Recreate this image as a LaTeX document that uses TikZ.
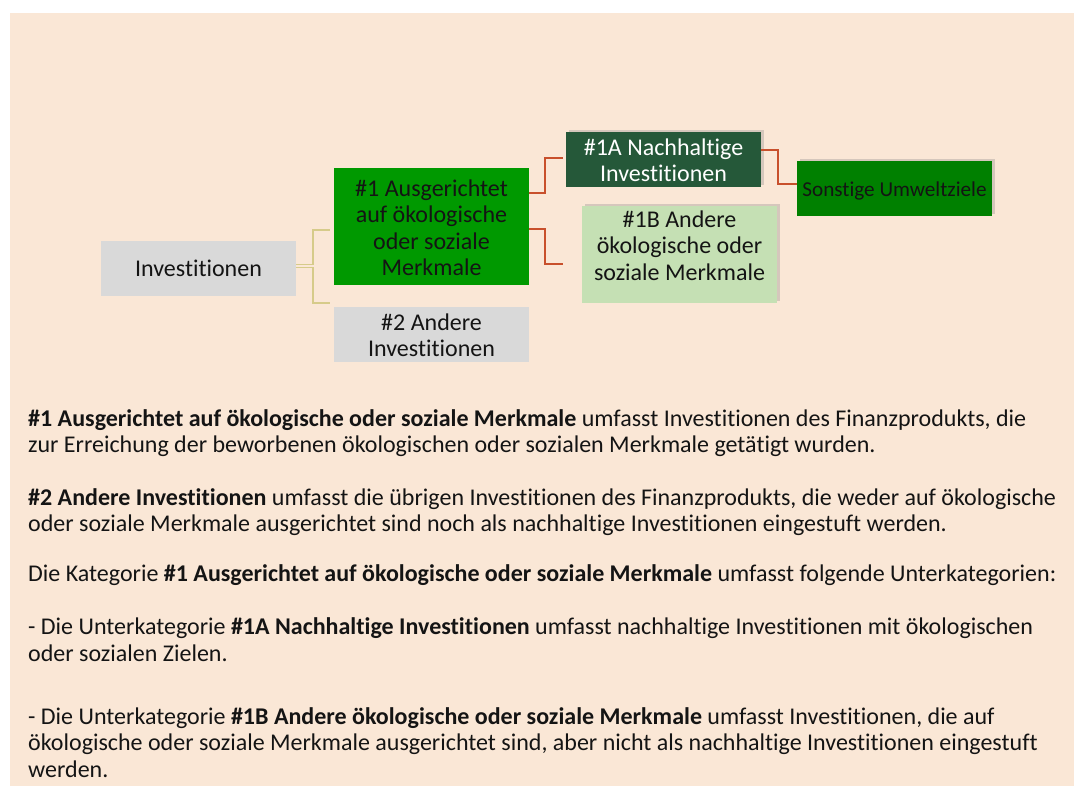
\documentclass[tikz,border=0pt]{standalone}
\usepackage{fontspec}
\setmainfont{Carlito}[Ligatures=NoCommon]
\usetikzlibrary{shadows}
\definecolor{peach}{RGB}{250,231,214}
\definecolor{boxgray}{RGB}{217,217,217}
\definecolor{green1}{RGB}{0,153,0}
\definecolor{green1a}{RGB}{37,88,57}
\definecolor{green1b}{RGB}{197,224,180}
\definecolor{greenso}{RGB}{0,128,0}
\definecolor{olive}{RGB}{214,203,138}
\definecolor{redline}{RGB}{200,80,44}
\definecolor{txt}{RGB}{20,20,20}
\newcommand{\topst}[1]{\rule{0pt}{#1pt}}
\newcommand{\botst}[1]{\rule[-#1pt]{0pt}{0pt}}
\tikzset{
  box/.style={rectangle, inner sep=0pt, align=center, text=txt, anchor=north,
    minimum width=195pt, font=\fontsize{24}{26.5}\selectfont},
  shad/.style={drop shadow={opacity=0.3, shadow xshift=2.5pt, shadow yshift=2.5pt}},
  oconn/.style={draw=olive, line width=1.5pt},
  rconn/.style={draw=redline, line width=1.8pt},
  body/.style={anchor=base west, inner sep=0pt, text=txt,
    font=\fontsize{24}{26.5}\selectfont}
}
\begin{document}
\begin{tikzpicture}[x=1pt,y=-1pt]
\useasboundingbox (0,0) rectangle (1074,786);
\fill[peach] (10,13) rectangle (1074,786);
% boxes (anchored at their top edge)
\node[box, fill=boxgray] (inv) at (198.5,241) {\topst{35.7}Investitionen\botst{19.3}};
\node[box, fill=green1] (k1) at (431.5,168) {\topst{28}\#1 Ausgerichtet\\auf ökologische\\oder soziale\\Merkmale\botst{9.5}};
\node[box, fill=boxgray] (k2) at (431.5,307) {\topst{23}\#2 Andere\\Investitionen\botst{5.5}};
\node[box, shad, fill=green1a, text=white] (k1a) at (663.5,132) {\topst{23}\#1A Nachhaltige\\Investitionen\botst{5.5}};
\node[box, shad, fill=greenso, font=\fontsize{21.2}{25}\selectfont] (so) at (894.5,161) {\topst{35}Sonstige Umweltziele\botst{20}};
\node[box, shad, fill=green1b] (k1b) at (679.5,206) {\topst{21.3}\#1B Andere\\ökologische oder\\soziale Merkmale\botst{22.7}};
% connector end points
\coordinate (e1) at (330,230);
\coordinate (e2) at (330,303);
\coordinate (e3) at (563,158);
\coordinate (e4) at (563,264);
% olive connectors
\draw[oconn] (inv.east |- 0,264.3) -- (313,264.3) |- (e1);
\draw[oconn] (inv.east |- 0,267.7) -- (313,267.7) |- (e2);
% red connectors
\draw[rconn] (k1.east |- 0,193) -- (545,193) |- (e3);
\draw[rconn] (k1.east |- 0,229) -- (545,229) |- (e4);
\draw[rconn] (k1a.east |- 0,150) -- (778,150) |- (so.west |- 0,184);
% body text
\node[body] (p1a) at (28,426) {\textbf{\#1 Ausgerichtet auf ökologische oder soziale Merkmale} umfasst Investitionen des Finanzprodukts, die};
\node[body] (p1b) at (28,452.5) {zur Erreichung der beworbenen ökologischen oder sozialen Merkmale getätigt wurden.};
\node[body] (p2a) at (28,505) {\textbf{\#2 Andere Investitionen} umfasst die übrigen Investitionen des Finanzprodukts, die weder auf ökologische};
\node[body] (p2b) at (28,531) {oder soziale Merkmale ausgerichtet sind noch als nachhaltige Investitionen eingestuft werden.};
\node[body] (p3) at (28,581) {Die Kategorie \textbf{\#1 Ausgerichtet auf ökologische oder soziale Merkmale} umfasst folgende Unterkategorien:};
\node[body] (p4a) at (28,634) {- Die Unterkategorie \textbf{\#1A Nachhaltige Investitionen} umfasst nachhaltige Investitionen mit ökologischen};
\node[body] (p4b) at (28,661) {oder sozialen Zielen.};
\node[body] (p5a) at (28,724) {- Die Unterkategorie \textbf{\#1B Andere ökologische oder soziale Merkmale} umfasst Investitionen, die auf};
\node[body] (p5b) at (28,750.5) {ökologische oder soziale Merkmale ausgerichtet sind, aber nicht als nachhaltige Investitionen eingestuft};
\node[body] (p5c) at (28,777) {werden.};
\end{tikzpicture}
\end{document}
